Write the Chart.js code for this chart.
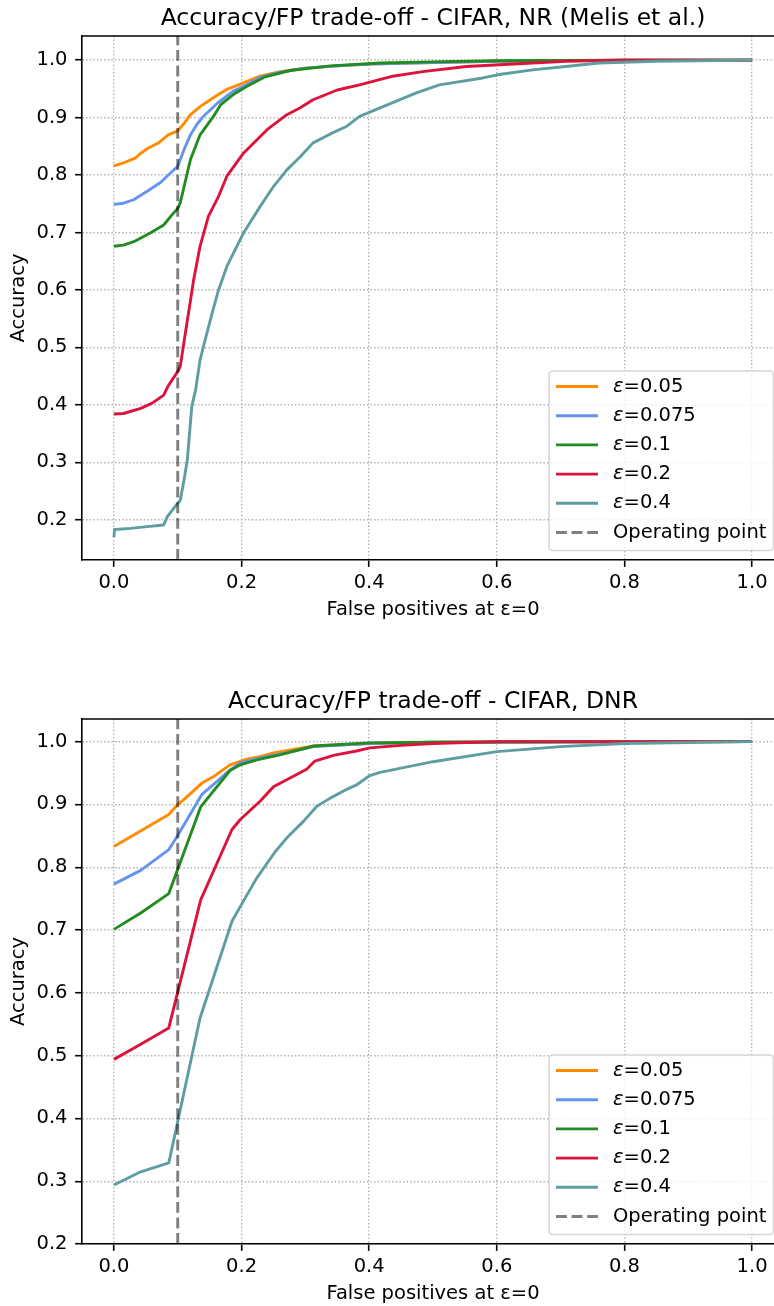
<!DOCTYPE html>
<html>
<head>
<meta charset="utf-8">
<title>Accuracy/FP trade-off</title>
<script src="https://cdn.jsdelivr.net/npm/chart.js@4.4.1/dist/chart.umd.min.js"></script>
<style>
  html, body { margin: 0; padding: 0; background: #fff; overflow: hidden; }
  #wrap { position: relative; width: 774px; height: 1306px; overflow: hidden; }
  canvas { position: absolute; left: 0; }
  #chart-nr { top: 0; }
  #chart-dnr { top: 640px; }
</style>
</head>
<body>
<div id="wrap">
  <canvas id="chart-nr" width="800" height="640"></canvas>
  <canvas id="chart-dnr" width="800" height="666"></canvas>
</div>
<script>
// --- DATA ---
const EPS_LABELS = ['0.05', '0.075', '0.1', '0.2', '0.4'];
const COLORS = ['#ff8c00', '#6495ed', '#228b22', '#dc143c', '#5f9ea0'];
const OP_POINT = 0.1;
const X_TICKS = [0, 0.2, 0.4, 0.6, 0.8, 1.0];
const Y_TICKS = [0.2, 0.3, 0.4, 0.5, 0.6, 0.7, 0.8, 0.9, 1.0];

// NR (Melis et al.)
const nrFp005  = [0, 0.015, 0.034, 0.042, 0.054, 0.07, 0.085, 0.1, 0.11, 0.12, 0.135, 0.151, 0.165, 0.177, 0.2, 0.229, 0.26, 0.3, 0.35, 0.4, 0.5, 0.6, 0.7, 0.8, 1.0];
const nrAcc005 = [0.816, 0.821, 0.83, 0.838, 0.847, 0.856, 0.87, 0.877, 0.89, 0.905, 0.919, 0.931, 0.941, 0.949, 0.959, 0.972, 0.98, 0.986, 0.99, 0.993, 0.996, 0.998, 0.999, 1.0, 1.0];
const nrFp0075  = [0, 0.015, 0.031, 0.054, 0.073, 0.089, 0.1, 0.104, 0.112, 0.12, 0.13, 0.14, 0.162, 0.187, 0.208, 0.229, 0.26, 0.3, 0.35, 0.4, 0.5, 0.6, 0.8, 1.0];
const nrAcc0075 = [0.749, 0.751, 0.757, 0.773, 0.787, 0.804, 0.815, 0.827, 0.85, 0.87, 0.888, 0.902, 0.925, 0.946, 0.957, 0.97, 0.979, 0.986, 0.99, 0.993, 0.996, 0.998, 1.0, 1.0];
const nrFp01  = [0, 0.015, 0.031, 0.057, 0.078, 0.089, 0.1, 0.104, 0.11, 0.115, 0.12, 0.135, 0.156, 0.167, 0.187, 0.208, 0.237, 0.276, 0.339, 0.417, 0.5, 0.6, 0.8, 1.0];
const nrAcc01 = [0.676, 0.678, 0.684, 0.699, 0.713, 0.728, 0.742, 0.752, 0.78, 0.804, 0.827, 0.87, 0.902, 0.922, 0.94, 0.954, 0.971, 0.982, 0.99, 0.995, 0.997, 0.999, 1.0, 1.0];
const nrFp02  = [0, 0.015, 0.042, 0.06, 0.078, 0.084, 0.091, 0.1, 0.104, 0.112, 0.121, 0.125, 0.135, 0.148, 0.164, 0.177, 0.203, 0.24, 0.271, 0.292, 0.312, 0.35, 0.385, 0.437, 0.484, 0.552, 0.604, 0.708, 0.8, 1.0];
const nrAcc02 = [0.384, 0.385, 0.394, 0.403, 0.417, 0.431, 0.443, 0.458, 0.467, 0.525, 0.589, 0.618, 0.676, 0.728, 0.763, 0.798, 0.838, 0.879, 0.905, 0.917, 0.931, 0.948, 0.957, 0.972, 0.98, 0.989, 0.992, 0.998, 1.0, 1.0];
const nrFp04  = [0, 0.001, 0.026, 0.052, 0.078, 0.084, 0.1, 0.104, 0.11, 0.115, 0.122, 0.128, 0.135, 0.143, 0.154, 0.164, 0.177, 0.203, 0.229, 0.25, 0.271, 0.292, 0.312, 0.34, 0.365, 0.385, 0.417, 0.474, 0.51, 0.578, 0.604, 0.656, 0.708, 0.76, 0.85, 1.0];
const nrAcc04 = [0.17, 0.183, 0.185, 0.188, 0.191, 0.206, 0.229, 0.234, 0.27, 0.304, 0.397, 0.426, 0.478, 0.513, 0.56, 0.6, 0.641, 0.699, 0.745, 0.78, 0.809, 0.832, 0.856, 0.872, 0.885, 0.902, 0.917, 0.943, 0.957, 0.969, 0.975, 0.983, 0.989, 0.995, 0.998, 1.0];

// DNR
const dnrFp005  = [0, 0.086, 0.1, 0.11, 0.138, 0.157, 0.182, 0.208, 0.232, 0.25, 0.313, 0.4, 0.5, 0.6, 1.0];
const dnrAcc005 = [0.833, 0.884, 0.9, 0.908, 0.934, 0.945, 0.963, 0.972, 0.977, 0.982, 0.993, 0.997, 0.999, 1.0, 1.0];
const dnrFp0075  = [0, 0.042, 0.086, 0.099, 0.138, 0.162, 0.182, 0.198, 0.229, 0.26, 0.313, 0.4, 0.5, 1.0];
const dnrAcc0075 = [0.773, 0.795, 0.828, 0.849, 0.916, 0.937, 0.955, 0.966, 0.974, 0.98, 0.992, 0.997, 0.999, 1.0];
const dnrFp01  = [0, 0.042, 0.086, 0.136, 0.182, 0.198, 0.224, 0.26, 0.313, 0.4, 0.5, 1.0];
const dnrAcc01 = [0.701, 0.727, 0.758, 0.896, 0.954, 0.963, 0.971, 0.979, 0.993, 0.998, 0.999, 1.0];
const dnrFp02  = [0, 0.042, 0.086, 0.136, 0.185, 0.198, 0.229, 0.25, 0.276, 0.302, 0.315, 0.344, 0.38, 0.401, 0.45, 0.5, 0.6, 1.0];
const dnrAcc02 = [0.494, 0.518, 0.544, 0.748, 0.86, 0.876, 0.905, 0.928, 0.942, 0.956, 0.969, 0.978, 0.985, 0.99, 0.994, 0.997, 1.0, 1.0];
const dnrFp04  = [0, 0.042, 0.086, 0.135, 0.185, 0.204, 0.224, 0.253, 0.273, 0.297, 0.318, 0.339, 0.365, 0.38, 0.401, 0.417, 0.5, 0.6, 0.7, 0.8, 1.0];
const dnrAcc04 = [0.294, 0.315, 0.329, 0.56, 0.714, 0.748, 0.783, 0.825, 0.849, 0.873, 0.897, 0.91, 0.924, 0.931, 0.946, 0.951, 0.968, 0.984, 0.992, 0.997, 1.0];

// --- STYLE ---
const FAMILY = "'DejaVu Sans', sans-serif";
const FONT = { family: FAMILY, size: 19.5 };
const LINE_W = 2.9;
Chart.defaults.color = '#000';
Chart.defaults.font.family = FAMILY;

// --- PLUGINS ---
// axes title, centred over the plot area like matplotlib does
const headingPlugin = {
    id: 'heading',
    afterDraw(chart, args, opts) {
        const { ctx, chartArea: a } = chart;
        ctx.save();
        ctx.font = `23.5px ${FAMILY}`;
        ctx.fillStyle = '#000';
        ctx.textAlign = 'center';
        ctx.textBaseline = 'alphabetic';
        ctx.fillText(opts.text, (a.left + a.right) / 2, a.top - 11);
        ctx.restore();
    }
};

// top + right spines (left/bottom come from the axis borders)
const framePlugin = {
    id: 'frame',
    afterDatasetsDraw(chart) {
        const { ctx, chartArea: a } = chart;
        ctx.save();
        ctx.strokeStyle = '#000';
        ctx.lineWidth = 1.6;
        ctx.beginPath();
        ctx.moveTo(a.left, a.top);
        ctx.lineTo(a.right, a.top);
        ctx.lineTo(a.right, a.bottom);
        ctx.stroke();
        ctx.restore();
    }
};

// legend box in the lower right corner of the plot
const boxLegendPlugin = {
    id: 'boxLegend',
    afterDraw(chart) {
        const { ctx, chartArea: a } = chart;
        const sets = chart.data.datasets;
        const w = 224.5, h = 179.5, rowH = 29.2;
        const right = a.right - 10.5, bottom = a.bottom - 9.5;
        const left = right - w, top = bottom - h;

        ctx.save();
        ctx.beginPath();
        ctx.roundRect(left, top, w, h, 4);
        ctx.fillStyle = 'rgba(255,255,255,0.8)';
        ctx.fill();
        ctx.strokeStyle = 'rgba(204,204,204,0.8)';
        ctx.lineWidth = 1.6;
        ctx.stroke();

        sets.forEach((ds, i) => {
            const y = top + 15.5 + rowH * i;
            ctx.beginPath();
            ctx.setLineDash(ds.borderDash || []);
            ctx.strokeStyle = ds.borderColor;
            ctx.lineWidth = ds.borderWidth;
            ctx.moveTo(left + 7, y);
            ctx.lineTo(left + 49, y);
            ctx.stroke();
            ctx.setLineDash([]);

            // epsilon is set in italic, the rest upright
            let x = left + 64;
            let text = ds.label;
            ctx.fillStyle = '#000';
            ctx.textBaseline = 'middle';
            ctx.textAlign = 'left';
            if (text.startsWith('ε')) {
                ctx.font = `italic 19.5px ${FAMILY}`;
                ctx.fillText('ε', x, y);
                x += ctx.measureText('ε').width;
                text = text.slice(1);
            }
            ctx.font = `19.5px ${FAMILY}`;
            ctx.fillText(text, x, y);
        });
        ctx.restore();
    }
};

// --- CHART ---
function buildChart(canvasId, series, title, yMin, yMax, padTop, padBottom) {
    const datasets = series.map(([fp, acc], i) => ({
        label: 'ε=' + EPS_LABELS[i],
        data: fp.map((x, k) => ({ x, y: acc[k] })),
        borderColor: COLORS[i],
        borderWidth: LINE_W,
        borderJoinStyle: 'round',
        pointRadius: 0,
        fill: false,
        order: 10 - i
    }));
    datasets.push({
        label: 'Operating point',
        data: [{ x: OP_POINT, y: yMin }, { x: OP_POINT, y: yMax }],
        borderColor: 'rgba(0,0,0,0.5)',
        borderWidth: LINE_W,
        borderDash: [10.9, 4.7],
        pointRadius: 0,
        fill: false,
        order: 0
    });

    const grid = {
        color: '#b0b0b0', lineWidth: 1.4,
        tickLength: 6.9, tickWidth: 1.6, tickColor: '#000'
    };
    const border = { display: true, color: '#000', width: 1.6, dash: [1.4, 2.2] };

    return new Chart(document.getElementById(canvasId), {
        type: 'line',
        data: { datasets },
        options: {
            responsive: false,
            animation: false,
            devicePixelRatio: 1,
            layout: { padding: { top: padTop, right: 16, bottom: padBottom, left: 0 } },
            plugins: {
                legend: { display: false },
                tooltip: { enabled: false },
                heading: { text: title }
            },
            scales: {
                x: {
                    type: 'linear', min: -0.05, max: 1.05,
                    afterBuildTicks: s => { s.ticks = X_TICKS.map(v => ({ value: v })); },
                    afterFit: s => { s.height = 62; },
                    ticks: { font: FONT, color: '#000', padding: 4, maxRotation: 0, autoSkip: false,
                             callback: v => v.toFixed(1) },
                    grid, border,
                    title: { display: true, text: 'False positives at ε=0', font: FONT, color: '#000',
                             padding: { top: 0, bottom: 0.3 } }
                },
                y: {
                    type: 'linear', min: yMin, max: yMax,
                    afterBuildTicks: s => { s.ticks = Y_TICKS.filter(v => v >= yMin - 1e-9).map(v => ({ value: v })); },
                    afterFit: s => { s.width = 82; },
                    ticks: { font: FONT, color: '#000', padding: 7.6, autoSkip: false,
                             callback: v => v.toFixed(1) },
                    grid, border,
                    title: { display: true, text: 'Accuracy', font: FONT, color: '#000',
                             padding: { top: 6.8, bottom: 0 } }
                }
            }
        },
        plugins: [headingPlugin, framePlugin, boxLegendPlugin]
    });
}

window.addEventListener('DOMContentLoaded', () => {
    buildChart('chart-nr', [
        [nrFp005, nrAcc005], [nrFp0075, nrAcc0075], [nrFp01, nrAcc01], [nrFp02, nrAcc02], [nrFp04, nrAcc04]
    ], 'Accuracy/FP trade-off - CIFAR, NR (Melis et al.)', 0.13, 1.042, 36, 18);

    buildChart('chart-dnr', [
        [dnrFp005, dnrAcc005], [dnrFp0075, dnrAcc0075], [dnrFp01, dnrAcc01], [dnrFp02, dnrAcc02], [dnrFp04, dnrAcc04]
    ], 'Accuracy/FP trade-off - CIFAR, DNR', 0.2, 1.036, 79, 0);
});
</script>
</body>
</html>
